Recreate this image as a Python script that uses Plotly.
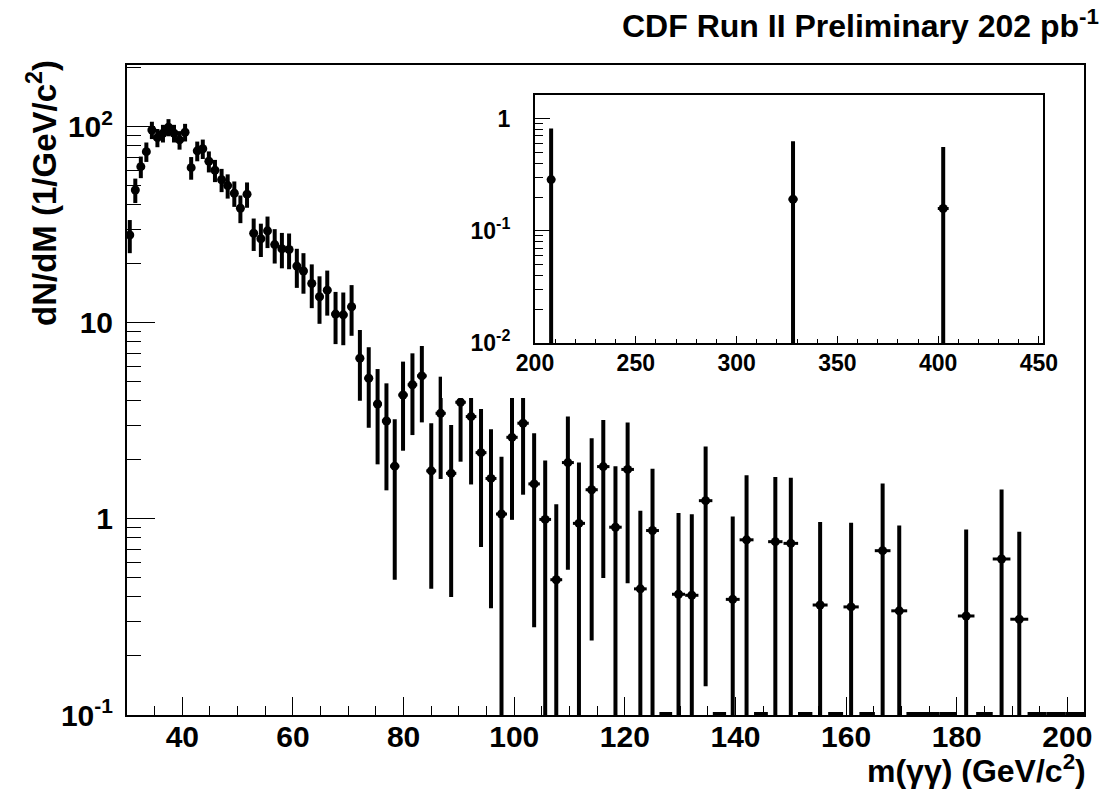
import plotly.graph_objects as go

# ---------------- data ----------------
mass = [30.5, 31.5, 32.5, 33.5, 34.5, 35.5, 36.5, 37.5, 38.5, 39.5, 40.5, 41.6, 42.7, 43.7,
        44.8, 45.9, 47.1, 48.2, 49.4, 50.5, 51.7, 52.9, 54.2, 55.4, 56.7, 58.0, 59.3, 60.7,
        61.9, 63.4, 64.8, 66.2, 67.7, 69.1, 70.6,
        72.1, 73.7, 75.3, 76.9, 78.4, 79.9, 81.6, 83.3, 85.0, 86.7, 88.6, 90.3, 92.2, 94.0,
        95.8, 97.7, 99.6, 101.6, 103.6, 105.6, 107.6, 109.7, 111.7, 114.0, 116.1, 118.3,
        120.5, 122.8, 125.0, 129.7, 132.1, 134.6, 139.5, 142.0, 147.2, 150.0, 155.3, 160.9,
        166.6, 169.6, 181.7, 188.1, 191.3]
dndm = [28.1, 47.7, 62.7, 74.8, 96.5, 88.2, 92.9, 99.6, 92.9, 85.9, 94.0, 62.0, 75.5, 77.4,
        66.8, 60.1, 53.8, 50.2, 45.9, 38.5, 45.4, 28.7, 26.9, 29.5, 25.1, 23.9, 23.7, 19.5,
        18.4, 15.9, 13.6, 14.7, 11.1, 11.0, 12.1,
        6.61, 5.22, 3.86, 3.16, 1.86, 4.29, 4.84, 5.37, 1.76, 3.46, 1.71, 3.94, 3.33, 2.18,
        1.61, 1.06, 2.61, 3.08, 1.51, 0.995, 0.49, 1.94, 0.95, 1.41, 1.85, 0.908,
        1.79, 0.44, 0.873, 0.413, 0.408, 1.24, 0.389, 0.783, 0.766, 0.751, 0.364, 0.356,
        0.689, 0.34, 0.32, 0.625, 0.308]
dndm_err = [5.4, 6.8, 7.9, 8.5, 9.8, 9.4, 9.6, 10.0, 9.6, 9.3, 9.7, 8.2, 8.7, 8.8,
            8.2, 7.8, 7.3, 7.1, 6.8, 6.2, 6.7, 5.4, 5.2, 5.4, 5.0, 4.9, 4.9, 4.4,
            4.3, 4.0, 3.7, 3.8, 3.3, 3.3, 3.5,
            2.6, 2.3, 1.96, 1.76, 1.37, 2.06, 2.16, 2.26, 1.32, 1.86, 1.31, 1.98, 1.83, 1.46,
            1.26, 1.02, 1.62, 1.75, 1.23, 0.99, 0.70, 1.39, 0.99, 1.17, 1.35, 0.95,
            1.32, 0.66, 0.93, 0.66, 0.65, 1.1, 0.64, 0.89, 0.87, 0.87, 0.60, 0.60,
            0.83, 0.585, 0.565, 0.79, 0.553]
bin_half = [0.5, 0.5, 0.5, 0.5, 0.5, 0.5, 0.5, 0.5, 0.5, 0.5, 0.5, 0.53, 0.53, 0.55,
            0.55, 0.57, 0.57, 0.58, 0.59, 0.6, 0.6, 0.62, 0.63, 0.64, 0.65, 0.66, 0.67, 0.68,
            0.69, 0.7, 0.71, 0.72, 0.73, 0.74, 0.75,
            0.76, 0.78, 0.8, 0.82, 0.83, 0.85, 0.87, 0.88, 0.9, 0.92, 0.93, 0.95, 0.96, 0.98,
            0.99, 1.0, 1.02, 1.03, 1.04, 1.06, 1.07, 1.08, 1.09, 1.1, 1.12, 1.13,
            1.14, 1.15, 1.16, 1.18, 1.2, 1.22, 1.25, 1.26, 1.3, 1.32, 1.35, 1.38,
            1.42, 1.44, 1.5, 1.6, 1.62]

# empty bins (drawn by ROOT as x-error segments on the lower frame edge)
empty_bins = [127.4, 137.1, 144.6, 152.6, 158.1, 163.8, 172.4, 175.4, 178.4, 185.0,
              194.5, 197.9, 201.3]
empty_half = [1.15, 1.2, 1.25, 1.3, 1.35, 1.4, 1.5, 1.5, 1.5, 1.5, 1.7, 1.7, 1.7]

# inset (high-mass tail)
mass_hi = [208.0, 328.0, 402.5]
dndm_hi = [0.286, 0.191, 0.158]
dndm_hi_err = [0.53, 0.437, 0.40]
bin_half_hi = [2.0, 2.2, 2.7]

main_xticks = [40, 60, 80, 100, 120, 140, 160, 180, 200]
main_yticks = [0.1, 1, 10, 100]
main_ytext = ["10<sup>-1</sup>", "1", "10", "10<sup>2</sup>"]
inset_xticks = [200, 250, 300, 350, 400, 450]
inset_yticks = [0.01, 0.1, 1]
inset_ytext = ["10<sup>-2</sup>", "10<sup>-1</sup>", "1"]

# ---------------- layout helpers (pixel -> paper) ----------------
W, H = 1111, 803
def fx(px):
    return px / W
def fy(py):
    return 1 - py / H

FONT = "Liberation Sans, Arial, Helvetica, sans-serif"
BLACK = "#000000"

fig = go.Figure()

# main data
fig.add_trace(go.Scatter(
    x=mass, y=dndm, mode="markers",
    marker=dict(color=BLACK, size=9, line=dict(width=0)),
    error_y=dict(type="data", array=dndm_err, visible=True, color=BLACK, thickness=4, width=0),
    error_x=dict(type="data", array=bin_half, visible=True, color=BLACK, thickness=3, width=0),
    xaxis="x", yaxis="y", showlegend=False, hoverinfo="x+y"))

# empty bins on the lower frame edge
ymin_main = 0.1
fig.add_trace(go.Scatter(
    x=empty_bins, y=[ymin_main] * len(empty_bins), mode="markers",
    marker=dict(color=BLACK, size=1, opacity=0),
    error_x=dict(type="data", array=empty_half, visible=True, color=BLACK, thickness=6, width=0),
    xaxis="x", yaxis="y", showlegend=False, hoverinfo="skip"))

# pad of the inset (white area hiding the main data underneath)
fig.add_trace(go.Scatter(x=[0.5], y=[0.5], mode="markers", marker=dict(size=1, opacity=0),
                         xaxis="x2", yaxis="y2", showlegend=False, hoverinfo="skip"))

# inset data
fig.add_trace(go.Scatter(
    x=mass_hi, y=dndm_hi, mode="markers",
    marker=dict(color=BLACK, size=9, line=dict(width=0)),
    error_y=dict(type="data", array=dndm_hi_err, visible=True, color=BLACK, thickness=4, width=0),
    error_x=dict(type="data", array=bin_half_hi, visible=True, color=BLACK, thickness=3, width=0),
    xaxis="x3", yaxis="y3", showlegend=False, hoverinfo="x+y"))

tickfont_main = dict(family=FONT, size=30, color=BLACK, weight="bold")
tickfont_inset = dict(family=FONT, size=23, color=BLACK, weight="bold")

minor_log_main = [k * 10 ** e for e in (-1, 0, 1) for k in range(2, 10)] + [200]
minor_log_inset = [k * 10 ** e for e in (-2, -1) for k in range(2, 10)]

hidden_axis = dict(range=[0, 1], showline=False, showticklabels=False, ticks="",
                   showgrid=False, zeroline=False, automargin=False, fixedrange=True)

fig.update_layout(
    template="none",
    width=W, height=H,
    margin=dict(l=0, r=0, t=0, b=0, pad=0),
    paper_bgcolor="white", plot_bgcolor="white",
    showlegend=False,
    xaxis=dict(
        domain=[fx(127), fx(1084)], range=[30, 203], anchor="y",
        tickmode="array", tickvals=main_xticks,
        ticks="inside", ticklen=18, tickwidth=1.3, tickcolor=BLACK,
        minor=dict(dtick=5, tick0=30, ticks="inside", ticklen=9, tickwidth=1.3, tickcolor=BLACK),
        showline=True, linewidth=2, linecolor=BLACK, mirror=True, automargin=False,
        showgrid=False, zeroline=False, tickfont=tickfont_main, ticklabelstandoff=-6),
    yaxis=dict(
        domain=[fy(715), fy(65)], type="log", range=[-1, 2.316], anchor="x",
        tickmode="array", tickvals=main_yticks, ticktext=main_ytext,
        ticks="inside", ticklen=28, tickwidth=1.3, tickcolor=BLACK,
        minor=dict(tickmode="array", tickvals=minor_log_main, ticks="inside", ticklen=14,
                   tickwidth=1.3, tickcolor=BLACK),
        showline=True, linewidth=2, linecolor=BLACK, mirror=True, automargin=False,
        showgrid=False, zeroline=False, tickfont=tickfont_main, ticklabelstandoff=6),
    xaxis2=dict(domain=[fx(442), fx(1080)], anchor="y2", **hidden_axis),
    yaxis2=dict(domain=[fy(398), fy(80)], anchor="x2", **hidden_axis),
    xaxis3=dict(
        domain=[fx(535), fx(1043)], range=[200, 452], anchor="y3",
        tickmode="array", tickvals=inset_xticks,
        ticks="inside", ticklen=7, tickwidth=1.2, tickcolor=BLACK,
        minor=dict(dtick=10, tick0=200, ticks="inside", ticklen=4, tickwidth=1.2, tickcolor=BLACK),
        showline=True, linewidth=2, linecolor=BLACK, mirror=True, automargin=False,
        showgrid=False, zeroline=False, tickfont=tickfont_inset, ticklabelstandoff=-2),
    yaxis3=dict(
        domain=[fy(343), fy(95)], type="log", range=[-2, 0.21], anchor="x3",
        tickmode="array", tickvals=inset_yticks, ticktext=inset_ytext,
        ticks="inside", ticklen=15, tickwidth=1.2, tickcolor=BLACK,
        minor=dict(tickmode="array", tickvals=minor_log_inset, ticks="inside", ticklen=8,
                   tickwidth=1.2, tickcolor=BLACK),
        showline=True, linewidth=2, linecolor=BLACK, mirror=True, automargin=False,
        showgrid=False, zeroline=False, tickfont=tickfont_inset, ticklabelstandoff=18),
)

# white pad rectangle, drawn in the pad subplot's own (lower) shape layer
fig.add_shape(type="rect", xref="x2", yref="y2", x0=-0.01, x1=1.01, y0=-0.01, y1=1.01,
              fillcolor="white", line=dict(width=0), layer="below")

title_font = dict(family=FONT, size=32, color=BLACK, weight="bold")
ytitle_font = dict(family=FONT, size=33, color=BLACK, weight="bold")
fig.add_annotation(text="CDF Run II Preliminary 202 pb<sup>-1</sup>",
                   xref="paper", yref="paper", x=fx(1101), y=fy(24),
                   xanchor="right", yanchor="middle", showarrow=False, font=title_font)
fig.add_annotation(text="m(γγ) (GeV/c<sup>2</sup>)",
                   xref="paper", yref="paper", x=fx(1088), y=fy(769),
                   xanchor="right", yanchor="middle", showarrow=False, font=title_font)
fig.add_annotation(text="dN/dM (1/GeV/c<sup>2</sup>)", textangle=-90,
                   xref="paper", yref="paper", x=fx(42), y=fy(58),
                   xanchor="center", yanchor="top", showarrow=False, font=ytitle_font)

fig.write_html("out.html")
